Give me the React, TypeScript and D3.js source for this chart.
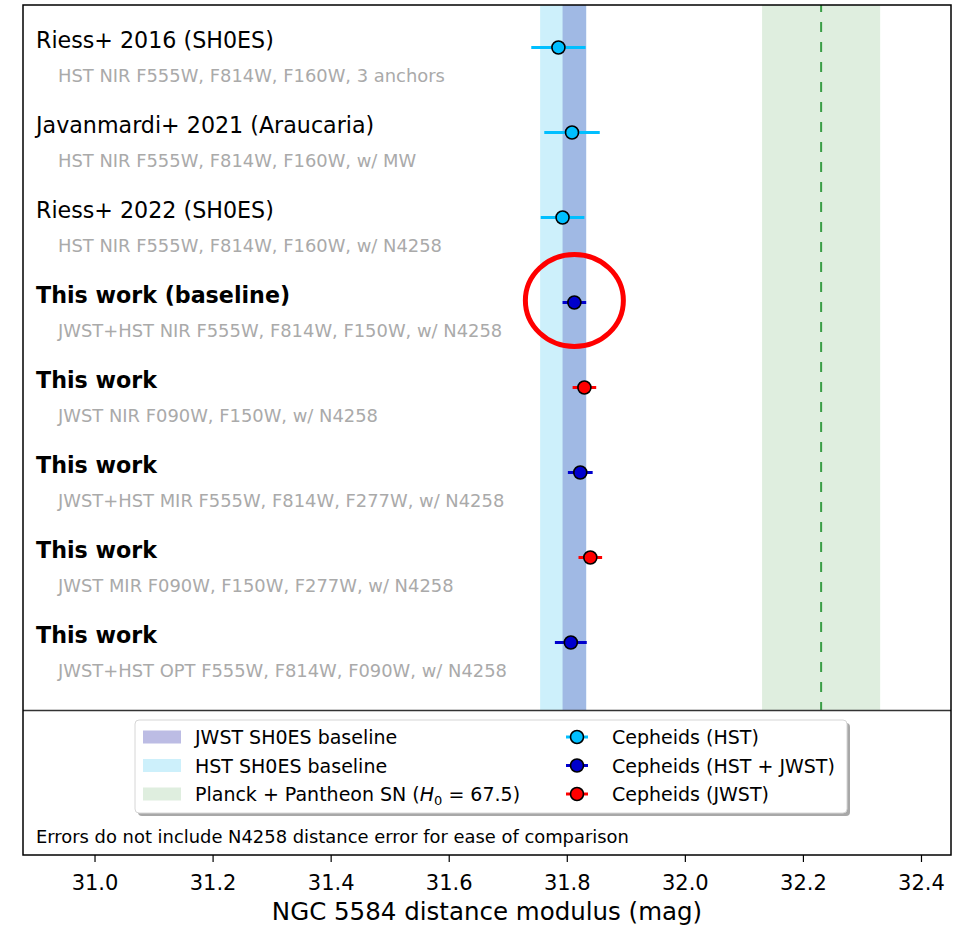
import React from "react";
import * as d3 from "d3";

// Row labels and measurements (NGC 5584 distance modulus, mag)
const rowTitles = [
  "Riess+ 2016 (SH0ES)",
  "Javanmardi+ 2021 (Araucaria)",
  "Riess+ 2022 (SH0ES)",
  "This work (baseline)",
  "This work",
  "This work",
  "This work",
  "This work",
];
const rowSubtitles = [
  "HST NIR F555W, F814W, F160W, 3 anchors",
  "HST NIR F555W, F814W, F160W, w/ MW",
  "HST NIR F555W, F814W, F160W, w/ N4258",
  "JWST+HST NIR F555W, F814W, F150W, w/ N4258",
  "JWST NIR F090W, F150W, w/ N4258",
  "JWST+HST MIR F555W, F814W, F277W, w/ N4258",
  "JWST MIR F090W, F150W, F277W, w/ N4258",
  "JWST+HST OPT F555W, F814W, F090W, w/ N4258",
];
const rowBold = [false, false, false, true, true, true, true, true];
const rowMu = [31.785, 31.808, 31.792, 31.812, 31.829, 31.822, 31.839, 31.806];
const rowErr = [0.046, 0.047, 0.037, 0.02, 0.02, 0.021, 0.02, 0.027];
const rowKind = ["hst", "hst", "hst", "both", "jwst", "both", "jwst", "both"];

// Reference bands
const hstBand = [31.754, 31.832];
const jwstBand = [31.792, 31.832];
const planckMu = 32.23;
const planckErr = 0.1;

const xTicks = [31.0, 31.2, 31.4, 31.6, 31.8, 32.0, 32.2, 32.4];

const kindColor: Record<string, string> = {
  hst: "#00bfff",
  both: "#0000cd",
  jwst: "#ff0000",
};

const bandLegend = [
  { label: "JWST SH0ES baseline", color: "#bcbce4" },
  { label: "HST SH0ES baseline", color: "#cdf0fb" },
  { label: "planck", color: "#dfeedf" },
];
const pointLegend = [
  { label: "Cepheids (HST)", kind: "hst" },
  { label: "Cepheids (HST + JWST)", kind: "both" },
  { label: "Cepheids (JWST)", kind: "jwst" },
];

const W = 963;
const H = 926;
const FONT = "DejaVu Sans, sans-serif";

export default function App() {
  const x = d3.scaleLinear().domain([30.878, 32.45]).range([23, 951]);
  const y = d3.scaleLinear().domain([-0.5, 9.5]).range([5, 855]);
  const left = x.range()[0];
  const right = x.range()[1];
  const top = y(-0.5);
  const bottom = y(9.5);
  const sepY = y(7.8);

  const legX = 135;
  const legY = 720;
  const legW = 712;
  const legH = 93;
  const legRows = [737, 765.5, 794];

  return (
    <svg
      width={W}
      height={H}
      style={{ position: "absolute", left: 0, top: 0, background: "#fff" }}
      fontFamily={FONT}
    >
      <rect width={W} height={H} fill="#fff" />
      {/* shaded bands */}
      <rect
        x={x(hstBand[0])}
        y={top}
        width={x(hstBand[1]) - x(hstBand[0])}
        height={sepY - top}
        fill="#cdf0fb"
      />
      <rect
        x={x(jwstBand[0])}
        y={top}
        width={x(jwstBand[1]) - x(jwstBand[0])}
        height={sepY - top}
        fill="rgb(107,120,200)"
        fillOpacity={0.46}
      />
      <rect
        x={x(planckMu - planckErr)}
        y={top}
        width={x(planckMu + planckErr) - x(planckMu - planckErr)}
        height={sepY - top}
        fill="#dfeedf"
      />
      <line
        x1={x(planckMu)}
        x2={x(planckMu)}
        y1={top}
        y2={sepY}
        stroke="#3a9e46"
        strokeWidth={2}
        strokeDasharray="10 10"
        strokeDashoffset={3}
      />

      {/* row labels */}
      {rowTitles.map((t, i) => (
        <g key={"lab" + i}>
          <text
            x={36}
            y={y(i)}
            fontSize={22.2}
            fontWeight={rowBold[i] ? "bold" : "normal"}
            fill="#000"
          >
            {t}
          </text>
          <text x={58} y={y(i) + 34} fontSize={17.9} fill="#aaaaaa">
            {rowSubtitles[i]}
          </text>
        </g>
      ))}

      {/* error bars and points */}
      {rowMu.map((m, i) => (
        <g key={"pt" + i}>
          <line
            x1={x(m - rowErr[i])}
            x2={x(m + rowErr[i])}
            y1={y(i)}
            y2={y(i)}
            stroke={kindColor[rowKind[i]]}
            strokeWidth={3}
          />
          <circle
            cx={x(m)}
            cy={y(i)}
            r={6.5}
            fill={kindColor[rowKind[i]]}
            stroke="#000"
            strokeWidth={1.6}
          />
        </g>
      ))}

      {/* highlight around the baseline measurement */}
      <ellipse
        cx={x(rowMu[3])}
        cy={y(3) - 2}
        rx={x(rowMu[3] + 0.083) - x(rowMu[3])}
        ry={46}
        fill="none"
        stroke="#ff0000"
        strokeWidth={5}
      />

      {/* separator between data and legend */}
      <line x1={left} x2={right} y1={sepY} y2={sepY} stroke="#333" strokeWidth={1.5} />

      {/* legend */}
      <rect x={legX + 3} y={legY + 3} width={legW} height={legH} rx={4} fill="#a8a8a8" />
      <rect
        x={legX}
        y={legY}
        width={legW}
        height={legH}
        rx={4}
        fill="#fff"
        stroke="#d6d6d6"
        strokeWidth={1}
      />
      {bandLegend.map((b, i) => (
        <g key={"bl" + i}>
          <rect x={143} y={legRows[i] - 6.5} width={38} height={13} fill={b.color} />
          <text x={195} y={legRows[i] + 7} fontSize={19} fill="#000">
            {b.label === "planck" ? (
              <>
                {"Planck + Pantheon SN ("}
                <tspan fontStyle="italic">H</tspan>
                <tspan fontSize={13} dy={4}>
                  0
                </tspan>
                <tspan dy={-4}>{" = 67.5)"}</tspan>
              </>
            ) : (
              b.label
            )}
          </text>
        </g>
      ))}
      {pointLegend.map((p, i) => (
        <g key={"pl" + i}>
          <line
            x1={566}
            x2={588}
            y1={legRows[i]}
            y2={legRows[i]}
            stroke={kindColor[p.kind]}
            strokeWidth={3}
          />
          <circle
            cx={577}
            cy={legRows[i]}
            r={6.5}
            fill={kindColor[p.kind]}
            stroke="#000"
            strokeWidth={1.6}
          />
          <text x={612} y={legRows[i] + 7} fontSize={19} fill="#000">
            {p.label}
          </text>
        </g>
      ))}

      <text x={36} y={843} fontSize={17.9} fill="#000">
        Errors do not include N4258 distance error for ease of comparison
      </text>

      {/* frame */}
      <rect
        x={left}
        y={top}
        width={right - left}
        height={bottom - top}
        fill="none"
        stroke="#000"
        strokeWidth={1.5}
      />

      {/* x axis */}
      {xTicks.map((t) => (
        <g key={"t" + t}>
          <line x1={x(t)} x2={x(t)} y1={bottom} y2={bottom + 7} stroke="#000" strokeWidth={1.2} />
          <text x={x(t)} y={890} fontSize={21} textAnchor="middle" fill="#000">
            {d3.format(".1f")(t)}
          </text>
        </g>
      ))}
      <text x={(left + right) / 2} y={920} fontSize={24.5} textAnchor="middle" fill="#000">
        NGC 5584 distance modulus (mag)
      </text>
    </svg>
  );
}
